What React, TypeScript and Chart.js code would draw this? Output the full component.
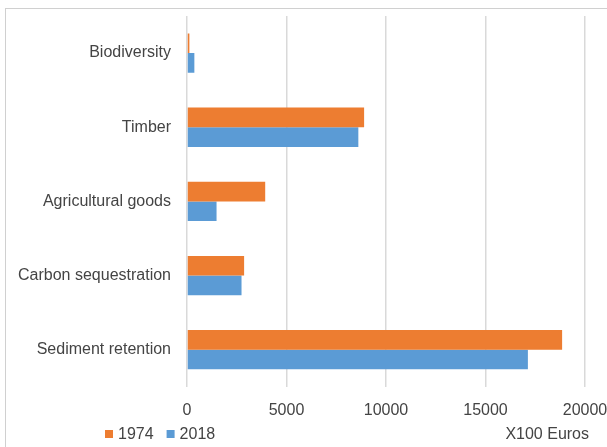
import React, { useEffect, useRef } from "react";
import { Chart, registerables } from "chart.js";

Chart.register(...registerables);

const categories = ["Biodiversity", "Timber", "Agricultural goods", "Carbon sequestration", "Sediment retention"];
const seriesNames = ["1974", "2018"];
const values1974 = [120, 8900, 3930, 2870, 18850];
const values2018 = [370, 8610, 1485, 2740, 17130];
const xTicks = [0, 5000, 10000, 15000, 20000];
const unitLabel = "X100 Euros";

const FONT = "'Liberation Sans', Arial, sans-serif";
const TEXT = "#444444";

const legendPlugin = {
  id: "customLegend",
  afterDraw(chart: any) {
    const ctx = chart.ctx;
    ctx.save();
    ctx.font = `16px ${FONT}`;
    ctx.textBaseline = "middle";
    ctx.textAlign = "left";
    const y = 434;
    let x = 105;
    chart.data.datasets.forEach((ds: any) => {
      ctx.fillStyle = ds.backgroundColor;
      ctx.fillRect(x, y - 4, 8, 8);
      ctx.fillStyle = TEXT;
      ctx.fillText(ds.label, x + 13, y + 1);
      x += 13 + ctx.measureText(ds.label).width + 13;
    });
    ctx.textAlign = "right";
    ctx.fillText(unitLabel, 589, y + 1);
    ctx.restore();
  },
};

export default function App() {
  const ref = useRef<HTMLCanvasElement>(null);
  useEffect(() => {
    if (!ref.current) return;
    const chart = new Chart(ref.current, {
      type: "bar",
      data: {
        labels: categories,
        datasets: [
          { label: seriesNames[0], data: values1974, backgroundColor: "#ED7D31", borderWidth: 0 },
          { label: seriesNames[1], data: values2018, backgroundColor: "#5B9BD5", borderWidth: 0 },
        ],
      },
      options: {
        indexAxis: "y",
        responsive: false,
        animation: false,
        layout: { padding: { left: 0, right: 22, top: 16, bottom: 13 } },
        datasets: { bar: { categoryPercentage: 0.53, barPercentage: 1.0 } },
        plugins: { legend: { display: false }, tooltip: { enabled: false } },
        scales: {
          x: {
            min: 0,
            max: 20000,
            afterBuildTicks: (s: any) => { s.ticks = xTicks.map((v) => ({ value: v })); },
            afterFit: (s: any) => { s.paddingLeft = 0; s.paddingRight = 0; },
            ticks: {
              color: TEXT,
              font: { family: FONT, size: 16 },
              padding: 14,
              maxRotation: 0,
              callback: (v: any) => String(v),
            },
            grid: { color: "#d9d9d9", lineWidth: 1.5, drawTicks: false },
            border: { display: false },
          },
          y: {
            afterFit: (s: any) => { s.width = 187; s.paddingTop = 0; s.paddingBottom = 0; },
            ticks: { color: TEXT, font: { family: FONT, size: 16 }, padding: 16 },
            grid: { display: false, drawTicks: false },
            border: { display: false },
          },
        },
      },
      plugins: [legendPlugin],
    });
    return () => chart.destroy();
  }, []);
  return (
    <div style={{ position: "fixed", left: 0, top: 0, width: 607, height: 447, background: "#fff", overflow: "hidden" }}>
      <div style={{ position: "absolute", left: 5, top: 8, width: 620, height: 460, border: "1px solid #d0d0d0", boxSizing: "border-box" }} />
      <canvas ref={ref} width={607} height={447} style={{ position: "absolute", left: 0, top: 0 }} />
    </div>
  );
}
